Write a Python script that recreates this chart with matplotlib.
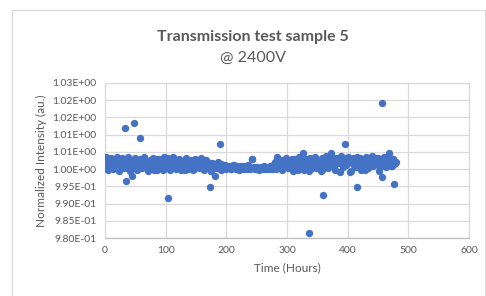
import matplotlib
matplotlib.use("Agg")
import matplotlib.pyplot as plt
from matplotlib.patches import Rectangle

plt.rcParams['font.family'] = ['Lato', 'DejaVu Sans']

# ─── Data ───────────────────────────────────────
hours = [
    0, 3, 6, 9, 12, 15, 18, 21, 24, 27, 30,
    33, 36, 39, 42, 45, 48, 51, 54, 57, 60,
    63, 66, 69, 72, 75, 78, 81, 84, 87, 90, 93, 96, 99,
    102, 105, 108, 111, 114, 117, 120, 123, 126, 129, 132, 135, 138, 141, 144, 147, 150,
    153, 156, 159, 162, 165, 168, 171, 174, 177, 180,
    183, 186, 189, 192, 195, 198, 201, 204, 207, 210,
    213, 216, 219, 222, 225, 228, 231, 234, 237, 240,
    243, 246, 249, 252, 255, 258, 261, 264, 267, 270,
    273, 276, 279, 282, 285, 288, 291, 294, 297, 300,
    303, 306, 309, 312, 315, 318, 321, 324, 327, 330,
    333, 336, 339, 342, 345, 348, 351, 354, 357, 360,
    363, 366, 369, 372, 375, 378, 381, 384, 387, 390,
    393, 396, 399, 402, 405, 408, 411, 414, 417, 420,
    423, 426, 429, 432, 435, 438, 441, 444, 447, 450,
    453, 456, 459, 462, 465, 468, 471, 474, 477, 480,
]
intensity = [
    1.0005, 1.0020, 1.0028, 1.0010, 1.0025, 1.0008, 1.0030, 1.0015, 1.0022, 1.0005, 1.0028,
    1.0018, 1.0002, 1.0026, 0.9995, 1.0012, 1.0024, 1.0008, 1.0015, 1.0003, 1.0022,
    1.0027, 1.0010, 1.0018, 1.0001, 1.0024, 1.0012, 0.9998, 1.0028, 1.0015, 1.0005, 1.0022, 0.9998, 1.0018,
    1.0026, 1.0008, 1.0030, 1.0012, 1.0020, 1.0000, 1.0016, 1.0023, 1.0005, 1.0012, 0.9998, 1.0020,
    1.0008, 1.0015, 1.0025, 1.0003, 1.0012,
    1.0025, 1.0008, 1.0022, 1.0012, 1.0026, 1.0003, 1.0015, 0.9995, 1.0018, 1.0002,
    1.0008, 1.0022, 1.0005, 1.0015, 1.0000, 1.0012, 1.0004, 1.0008, 0.9999, 1.0006,
    1.0011, 1.0000, 1.0004, 1.0009, 0.9999, 1.0003, 1.0008, 1.0000, 1.0005, 1.0002,
    1.0028, 1.0006, 1.0000, 1.0004, 0.9999, 1.0003, 1.0001, 1.0000, 1.0004, 0.9999,
    1.0002, 1.0000, 1.0004, 1.0001, 1.0015, 1.0025, 1.0012, 1.0020, 1.0005, 1.0018,
    1.0022, 1.0008, 1.0028, 1.0012, 1.0018, 0.9998, 1.0025, 1.0005, 1.0015, 1.0028,
    1.0010, 0.9995, 1.0020, 1.0012, 1.0026, 1.0003, 1.0018, 1.0008, 0.9998, 1.0022,
    1.0030, 1.0015, 1.0035, 1.0020, 1.0028, 1.0008, 1.0032, 1.0018, 0.9993, 1.0025,
    1.0033, 1.0012, 1.0020, 1.0030, 0.9995, 1.0015, 1.0028, 1.0005, 1.0022, 1.0032,
    1.0010, 1.0025, 0.9998, 1.0018, 1.0030, 1.0008, 1.0020, 1.0028, 1.0015, 1.0033,
    1.0005, 1.0022, 1.0030, 1.0012, 1.0035, 1.0025, 1.0008, 1.0030, 1.0015, 1.0022,
]

# second set of readings taken between the ones above
hours_b = [
    1.5, 4.5, 7.5, 10.5, 13.5, 16.5, 19.5, 22.5, 25.5, 28.5, 31.5,
    34.5, 37.5, 40.5, 43.5, 46.5, 49.5, 52.5, 55.5, 58.5, 61.5, 64.5,
    67.5, 70.5, 73.5, 76.5, 79.5, 82.5, 85.5, 88.5, 91.5, 94.5, 97.5,
    100.5, 103.5, 106.5, 109.5, 112.5, 115.5, 118.5, 121.5, 124.5, 127.5, 130.5,
    133.5, 136.5, 139.5, 142.5, 145.5, 148.5, 151.5, 154.5, 157.5, 160.5, 163.5,
    166.5, 169.5, 172.5, 175.5, 178.5,
    181.5, 184.5, 187.5, 190.5, 193.5, 196.5, 199.5, 202.5, 205.5, 208.5, 211.5,
    214.5, 217.5, 220.5, 223.5, 226.5, 229.5, 232.5, 235.5, 238.5, 241.5, 244.5,
    247.5, 250.5, 253.5, 256.5, 259.5, 262.5, 265.5, 268.5, 271.5, 274.5, 277.5,
    280.5, 283.5, 286.5, 289.5, 292.5, 295.5, 298.5, 301.5, 304.5, 307.5, 310.5,
    313.5, 316.5, 319.5, 322.5, 325.5, 328.5, 331.5, 334.5, 337.5, 340.5, 343.5,
    346.5, 349.5, 352.5, 355.5, 358.5, 361.5, 364.5, 367.5, 370.5, 373.5, 376.5,
    379.5, 382.5, 385.5, 388.5, 391.5, 394.5, 397.5, 400.5, 403.5, 406.5, 409.5,
    412.5, 415.5, 418.5, 421.5, 424.5, 427.5, 430.5, 433.5, 436.5, 439.5, 442.5,
    445.5, 448.5, 451.5, 454.5, 457.5, 460.5, 463.5, 466.5, 469.5, 472.5, 475.5,
    478.5,
]
intensity_b = [
    1.0035, 0.9996, 1.0012, 1.0033, 1.0001, 1.0024, 1.0036, 0.9994, 1.0017, 1.0031, 1.0003,
    1.0009, 1.0034, 0.9999, 1.0021, 1.0007, 1.0032, 0.9996, 1.0014, 1.0029, 1.0002, 1.0035,
    1.0011, 0.9995, 1.0027, 1.0006, 1.0033, 1.0013, 0.9997, 1.0030, 1.0004, 1.0021, 1.0034,
    1.0003, 1.0031, 0.9997, 1.0019, 1.0034, 1.0006, 1.0013, 1.0029, 0.9996, 1.0022, 1.0008,
    1.0032, 1.0001, 1.0017, 1.0026, 0.9998, 1.0030, 1.0010, 1.0004, 1.0033, 1.0014, 0.9997,
    1.0027, 1.0005, 1.0018, 0.9994, 1.0011,
    1.0016, 1.0003, 1.0010, 0.9998, 1.0007, 1.0012, 1.0001, 1.0009, 1.0004, 0.9999, 1.0011,
    1.0002, 1.0008, 0.9998, 1.0006, 1.0010, 1.0001, 1.0005, 1.0012, 0.9999, 1.0030, 1.0004,
    1.0001, 1.0007, 0.9998, 1.0005, 1.0002, 1.0009, 0.9999, 1.0004, 1.0008, 1.0000, 1.0011,
    1.0022, 1.0034, 1.0009, 1.0027, 0.9997, 1.0016, 1.0031, 1.0004, 1.0024, 1.0013, 0.9995,
    1.0030, 1.0019, 1.0035, 1.0006, 1.0021, 0.9998, 1.0028, 1.0011, 1.0033, 1.0002, 1.0017,
    1.0036, 1.0008, 1.0025, 0.9994, 1.0031, 1.0014, 1.0037, 1.0003, 1.0023, 1.0033, 1.0010,
    0.9996, 1.0029, 1.0018, 1.0038, 1.0005, 1.0026, 1.0012, 1.0034, 0.9993, 1.0021, 1.0031,
    1.0007, 1.0036, 1.0016, 0.9997, 1.0028, 1.0011, 1.0034, 1.0004, 1.0024, 1.0037, 1.0009,
    1.0019, 1.0032, 0.9995, 1.0026, 1.0014, 1.0036, 1.0006, 1.0022, 1.0033, 1.0010, 1.0028,
    1.0018,
]

# isolated readings away from the main band
outlier_hours = [33, 47.5, 57, 34, 45, 104, 190, 173, 181,
                 456, 396, 327, 335.5, 360, 416, 457, 477, 468, 372]
outlier_intensity = [1.0118, 1.0133, 1.0091, 0.9965, 0.9980, 0.9917, 1.0072, 0.9949, 0.9980,
                     1.0191, 1.0072, 1.0048, 0.9814, 0.9925, 0.9947, 0.9978, 0.9957, 1.0048, 1.0048]

y_ticks = [0.980, 0.985, 0.990, 0.995, 1.000, 1.005, 1.010, 1.015, 1.020, 1.025]
y_tick_labels = ['9.80E-01', '9.85E-01', '9.90E-01', '9.95E-01', '1.00E+00',
                 '1.01E+00', '1.01E+00', '1.02E+00', '1.02E+00', '1.03E+00']
x_ticks = [0, 100, 200, 300, 400, 500, 600]

# ─── Plot ───────────────────────────────────────
blue = '#4472C4'
grey_text = '#595959'
grid_col = '#D9D9D9'

fig = plt.figure(figsize=(4.86, 2.96), dpi=100)
fig.patch.set_facecolor('white')

# chart-area border (Excel style)
fig.patches.append(Rectangle((12 / 486, -0.05), 473 / 486, 1 - 10 / 296 + 0.05,
                             transform=fig.transFigure, fill=False,
                             edgecolor='#D9D9D9', linewidth=0.8))

ax = fig.add_axes([105 / 486, 1 - 238 / 296, 364 / 486, 155 / 296])

for xs, ys in [(hours, intensity), (hours_b, intensity_b),
               (outlier_hours, outlier_intensity)]:
    ax.scatter(xs, ys, s=28, color=blue, zorder=3, linewidths=0)

ax.set_xlim(0, 600)
ax.set_ylim(0.980, 1.025)
ax.set_xticks(x_ticks)
ax.set_yticks(y_ticks)
ax.set_yticklabels(y_tick_labels)

ax.grid(True, color=grid_col, linewidth=0.9)
ax.set_axisbelow(True)
for sp in ax.spines.values():
    sp.set_color(grid_col)
    sp.set_linewidth(0.9)
ax.spines['bottom'].set_color('#BFBFBF')

ax.tick_params(length=0, labelsize=7.5, colors=grey_text, pad=6)

ax.set_xlabel('Time (Hours)', fontsize=8.5, color=grey_text, labelpad=5)
ax.set_ylabel('Normalized Intensity (au.)', fontsize=8.5, color=grey_text, labelpad=4)

fig.text(0.52, 1 - 37 / 296, 'Transmission test sample 5', ha='center', va='center',
         fontsize=11.5, fontweight='bold', color=grey_text)
fig.text(0.52, 1 - 58 / 296, '@ 2400V', ha='center', va='center',
         fontsize=11.5, color=grey_text)

fig.savefig('out.png', dpi=100)
